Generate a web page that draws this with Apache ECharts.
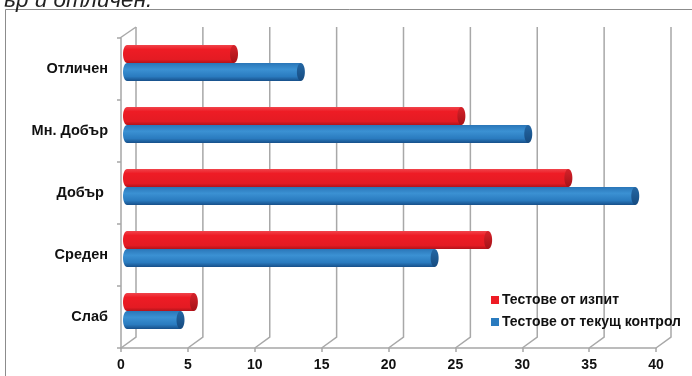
<!DOCTYPE html>
<html>
<head>
<meta charset="utf-8">
<script src="https://cdn.jsdelivr.net/npm/echarts@6/dist/echarts.min.js"></script>
<style>
  html, body { margin: 0; padding: 0; background: #fff; }
  #chart { width: 692px; height: 376px; }
</style>
</head>
<body>
<div id="chart"></div>
<script>
// categories from bottom to top (category axis starts at the bottom)
var categories = ['Слаб', 'Среден', 'Добър ', 'Мн. Добър', 'Отличен'];
var examTests = [5, 27, 33, 25, 8];      // Тестове от изпит
var currentTests = [4, 23, 38, 30, 13];  // Тестове от текущ контрол
var xTicks = [0, 5, 10, 15, 20, 25, 30, 35, 40];

var seriesNames = ['Тестове от изпит', 'Тестове от текущ контрол'];

// 3D look
var DEPTH_X = 15, DEPTH_Y = -11;   // back wall offset
var MID_X = 6, MID_Y = -6;         // bars sit half way in depth
var BAR_H = 18;
var CAP_RX = 4;

var redBody = new echarts.graphic.LinearGradient(0, 0, 0, 1, [
    { offset: 0, color: '#f0444b' },
    { offset: 0.25, color: '#ee1c25' },
    { offset: 0.8, color: '#e41b23' },
    { offset: 1, color: '#b3131a' }
]);
var redCap = new echarts.graphic.LinearGradient(0, 0, 0, 1, [
    { offset: 0, color: '#d6222a' },
    { offset: 1, color: '#a51218' }
]);
var blueBody = new echarts.graphic.LinearGradient(0, 0, 0, 1, [
    { offset: 0, color: '#2a76b8' },
    { offset: 0.35, color: '#3b91d3' },
    { offset: 0.75, color: '#2a7bbf' },
    { offset: 1, color: '#17508a' }
]);
var blueCap = new echarts.graphic.LinearGradient(0, 0, 0, 1, [
    { offset: 0, color: '#2467a4' },
    { offset: 1, color: '#164b80' }
]);

function makeBar(top, bodyFill, capFill) {
    return function (params, api) {
        var cat = api.value(1);
        var p0 = api.coord([0, cat]);
        var p1 = api.coord([api.value(0), cat]);
        var x0 = p0[0] + MID_X;
        var x1 = p1[0] + MID_X;
        var y0 = p0[1] + MID_Y + (top ? -BAR_H : 0);
        var cy = y0 + BAR_H / 2;
        return {
            type: 'group',
            children: [
                { type: 'ellipse', shape: { cx: x0, cy: cy, rx: CAP_RX, ry: BAR_H / 2 }, style: { fill: bodyFill } },
                { type: 'rect', shape: { x: x0, y: y0, width: x1 - x0, height: BAR_H }, style: { fill: bodyFill } },
                { type: 'ellipse', shape: { cx: x1, cy: cy, rx: CAP_RX, ry: BAR_H / 2 }, style: { fill: capFill } }
            ]
        };
    };
}

function gridLines(params, api) {
    var cs = params.coordSys;
    var x = api.coord([api.value(0), 0])[0];
    var bottom = cs.y + cs.height;
    var top = cs.y;
    var children = [{
        type: 'polyline',
        shape: { points: [[x, bottom], [x + DEPTH_X, bottom + DEPTH_Y], [x + DEPTH_X, top + DEPTH_Y]] },
        style: { stroke: '#a8a8a8', lineWidth: 1.5, fill: null }
    }];
    if (api.value(0) === 0) {
        children.push({
            type: 'line',
            shape: { x1: x - 1, y1: top, x2: x + DEPTH_X, y2: top + DEPTH_Y },
            style: { stroke: '#a8a8a8', lineWidth: 1.5 }
        });
    }
    return { type: 'group', children: children };
}

var chart = echarts.init(document.getElementById('chart'));

var option = {
    backgroundColor: '#fff',
    animation: false,
    textStyle: { fontFamily: 'Liberation Sans, Arial, sans-serif' },
    graphic: [
        {
            type: 'rect',
            shape: { x: 5.5, y: 9.5, width: 720, height: 400 },
            style: { fill: null, stroke: '#8c8c8c', lineWidth: 1 }
        },
        {
            type: 'text',
            left: 2,
            top: -11,
            style: {
                text: 'ър и отличен.',
                font: 'italic 22.5px "Liberation Sans", Arial, sans-serif',
                fill: '#222'
            }
        }
    ],
    legend: {
        orient: 'vertical',
        left: 486,
        top: 288,
        itemWidth: 8,
        itemHeight: 8,
        itemGap: 8,
        icon: 'rect',
        textStyle: { fontSize: 14, fontWeight: 'bold', color: '#111', padding: [0, 0, 0, -2] },
        data: [
            { name: seriesNames[0], itemStyle: { color: '#ee1c25' } },
            { name: seriesNames[1], itemStyle: { color: '#2a7bbf' } }
        ]
    },
    grid: { left: 121, right: 36, top: 38, bottom: 28 },
    xAxis: {
        type: 'value',
        min: 0,
        max: 40,
        interval: 5,
        axisLine: { show: true, lineStyle: { color: '#a6a6a6', width: 1.5 } },
        axisTick: { show: true, length: 4, lineStyle: { color: '#a6a6a6', width: 1.5 } },
        splitLine: { show: false },
        axisLabel: { margin: 10, fontSize: 14, fontWeight: 'bold', color: '#111' }
    },
    yAxis: {
        type: 'category',
        data: categories,
        axisLine: { show: true, lineStyle: { color: '#a6a6a6', width: 1.5 } },
        axisTick: { show: true, length: 4, lineStyle: { color: '#a6a6a6', width: 1.5 } },
        axisLabel: { margin: 13, fontSize: 14.5, fontWeight: 'bold', color: '#111' }
    },
    series: [
        {
            type: 'custom',
            name: 'grid',
            z: 1,
            silent: true,
            renderItem: gridLines,
            data: xTicks.map(function (v) { return [v]; }),
            encode: { x: 0 }
        },
        {
            type: 'custom',
            name: seriesNames[0],
            z: 3,
            itemStyle: { color: '#ee1c25' },
            renderItem: makeBar(true, redBody, redCap),
            data: examTests.map(function (v, i) { return [v, i]; }),
            encode: { x: 0, y: 1 }
        },
        {
            type: 'custom',
            name: seriesNames[1],
            z: 3,
            itemStyle: { color: '#2a7bbf' },
            renderItem: makeBar(false, blueBody, blueCap),
            data: currentTests.map(function (v, i) { return [v, i]; }),
            encode: { x: 0, y: 1 }
        }
    ]
};

chart.setOption(option);
</script>
</body>
</html>
